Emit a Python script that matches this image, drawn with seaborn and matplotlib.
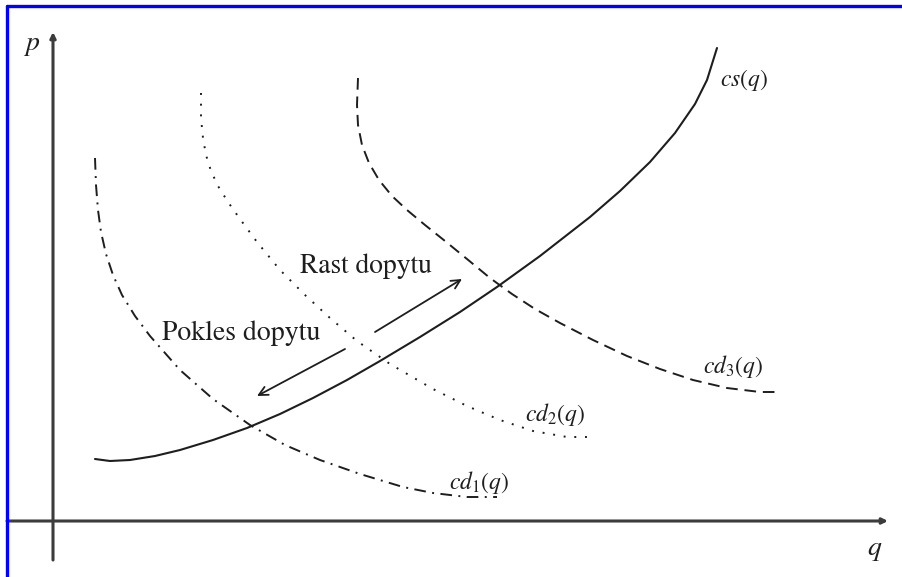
import matplotlib
matplotlib.use('Agg')
import matplotlib.pyplot as plt
import seaborn as sns
from matplotlib.lines import Line2D

# curves (q, p units)
CS_Q = [0.42, 0.57, 0.77, 1.02, 1.27, 1.60, 1.94, 2.27, 2.60, 2.94, 3.27, 3.67,
        4.07, 4.44, 4.87, 5.37, 5.67, 5.97, 6.22, 6.42, 6.54, 6.64]
CS_P = [0.62, 0.60, 0.61, 0.65, 0.71, 0.81, 0.93, 1.07, 1.23, 1.41, 1.60, 1.84,
        2.09, 2.34, 2.65, 3.04, 3.30, 3.59, 3.88, 4.17, 4.41, 4.73]

CD1_Q = [0.42, 0.43, 0.45, 0.48, 0.53, 0.60, 0.69, 0.82, 0.97, 1.27, 1.60, 1.97,
         2.32, 2.67, 3.07, 3.50, 3.80, 4.14, 4.44]
CD1_P = [3.63, 3.36, 3.11, 2.89, 2.67, 2.46, 2.26, 2.05, 1.85, 1.51, 1.22, 0.96,
         0.76, 0.61, 0.47, 0.34, 0.28, 0.24, 0.24]

CD2_Q = [1.48, 1.48, 1.50, 1.53, 1.58, 1.65, 1.75, 1.87, 2.04, 2.27, 2.52, 2.77,
         3.04, 3.37, 3.80, 4.14, 4.47, 4.80, 5.14, 5.35]
CD2_P = [4.28, 4.03, 3.83, 3.66, 3.50, 3.35, 3.19, 3.02, 2.79, 2.51, 2.26, 2.03,
         1.80, 1.57, 1.32, 1.15, 1.01, 0.90, 0.84, 0.84]

CD3_Q = [3.05, 3.04, 3.05, 3.09, 3.16, 3.26, 3.39, 3.54, 3.72, 3.92, 4.14, 4.37,
         4.59, 4.82, 5.07, 5.40, 5.74, 6.07, 6.40, 6.74, 7.07, 7.25]
CD3_P = [4.43, 4.16, 3.96, 3.76, 3.58, 3.41, 3.25, 3.11, 2.96, 2.80, 2.62, 2.43,
         2.27, 2.12, 1.98, 1.81, 1.65, 1.52, 1.41, 1.33, 1.29, 1.29]

# shift arrows: [start, end]
RAST_Q = [3.22, 4.09]
RAST_P = [1.89, 2.42]
POKLES_Q = [2.92, 2.04]
POKLES_P = [1.72, 1.25]

LABELS = [r'$cs(q)$', r'$cd_1(q)$', r'$cd_2(q)$', r'$cd_3(q)$']
LABEL_Q = [6.67, 3.96, 4.72, 6.50]
LABEL_P = [4.41, 0.39, 1.06, 1.54]

sns.set_theme(style='white')
plt.rcParams['font.family'] = ['STIXGeneral', 'DejaVu Serif']
plt.rcParams['mathtext.fontset'] = 'stix'

fig = plt.figure(figsize=(9.02, 5.77), dpi=100)
ax = fig.add_axes([0, 0, 1, 1])
ax.set_xlim(-0.53, 8.49)
ax.set_ylim(-0.56, 5.21)
ax.axis('off')

ink = '#1e1e1e'
# estimator=None: the curves fold back on q, so no aggregation
style = dict(ax=ax, sort=False, estimator=None, color=ink,
             solid_joinstyle='round', dash_joinstyle='round')
sns.lineplot(x=CS_Q, y=CS_P, lw=1.5, **style)
sns.lineplot(x=CD1_Q, y=CD1_P, lw=1.4, linestyle=(0, (6, 3.3, 1, 3.3)), **style)
sns.lineplot(x=CD2_Q, y=CD2_P, lw=1.4, linestyle=(0, (1, 4.5)), **style)
sns.lineplot(x=CD3_Q, y=CD3_P, lw=1.4, linestyle=(0, (6, 3.5)), **style)

# axes with arrowheads
axis_col = '#3c3c3c'
ax.annotate('', xy=(8.35, 0), xytext=(-0.46, 0),
            arrowprops=dict(arrowstyle='-|>', color=axis_col, lw=2.2,
                            mutation_scale=8, shrinkA=0, shrinkB=0))
ax.annotate('', xy=(0, 4.89), xytext=(0, -0.39),
            arrowprops=dict(arrowstyle='-|>', color=axis_col, lw=2.2,
                            mutation_scale=8, shrinkA=0, shrinkB=0))
ax.text(-0.21, 4.76, r'$p$', fontsize=20, ha='center', va='center', color=ink)
ax.text(8.22, -0.29, r'$q$', fontsize=20, ha='center', va='center', color=ink)

for lab, q, p in zip(LABELS, LABEL_Q, LABEL_P):
    ax.text(q, p, lab, fontsize=17, ha='left', va='center', color=ink)

for qs, ps in [(RAST_Q, RAST_P), (POKLES_Q, POKLES_P)]:
    ax.annotate('', xy=(qs[1], ps[1]), xytext=(qs[0], ps[0]),
                arrowprops=dict(arrowstyle='->', color=ink, lw=1.3,
                                mutation_scale=16, shrinkA=0, shrinkB=0))

ax.text(2.47, 2.48, 'Rast dopytu', fontsize=19.8, ha='left', va='baseline', color=ink)
ax.text(1.09, 1.81, 'Pokles dopytu', fontsize=20, ha='left', va='baseline', color=ink)

# blue frame (top and left only)
fig.add_artist(Line2D([7.5 / 902, 1], [1 - 6 / 577, 1 - 6 / 577],
                      transform=fig.transFigure, color='#0000ff', lw=2.4))
fig.add_artist(Line2D([7.5 / 902, 7.5 / 902], [0, 1 - 6 / 577],
                      transform=fig.transFigure, color='#0000ff', lw=2.4))

fig.savefig('out.png', dpi=100, facecolor='white')
